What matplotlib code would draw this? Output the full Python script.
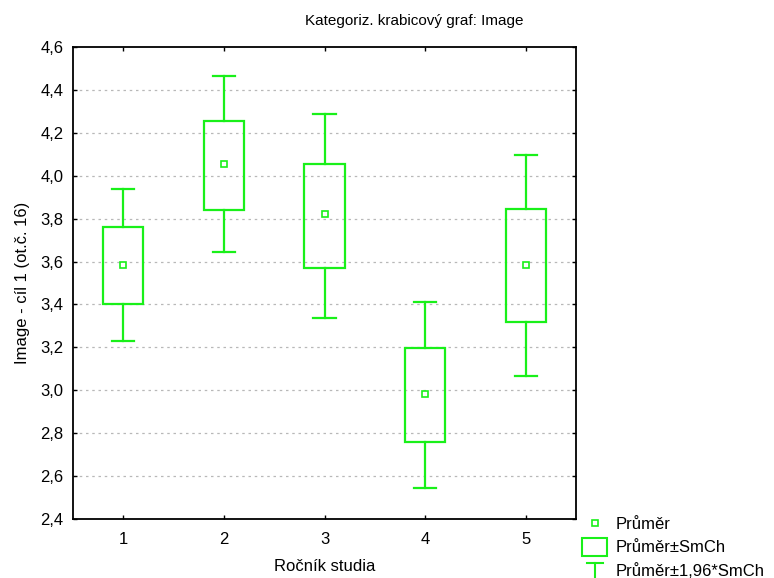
import matplotlib
matplotlib.use('Agg')
import matplotlib.pyplot as plt
from matplotlib.lines import Line2D
from matplotlib.patches import Rectangle
from matplotlib.legend_handler import HandlerBase
from matplotlib.ticker import FuncFormatter

plt.rcParams['font.family'] = ['Liberation Sans', 'DejaVu Sans']

# data
groups = [1, 2, 3, 4, 5]
means = [3.584, 4.055, 3.820, 2.982, 3.584]
box_lo = [3.402, 3.840, 3.570, 2.758, 3.318]
box_hi = [3.761, 4.255, 4.055, 3.197, 3.845]
whis_lo = [3.229, 3.644, 3.337, 2.544, 3.066]
whis_hi = [3.938, 4.465, 4.288, 3.411, 4.097]
yticks = [2.4, 2.6, 2.8, 3.0, 3.2, 3.4, 3.6, 3.8, 4.0, 4.2, 4.4, 4.6]

GREEN = '#19f019'
BOX_W = 0.40
CAP_W = 0.22
FS = 12


class HandlerT(HandlerBase):
    # whisker-like legend glyph: a "T"
    def create_artists(self, legend, orig_handle, xd, yd, width, height, fontsize, trans):
        cx = width / 2 - xd
        top = height + 1 - yd
        bar = Line2D([cx - 6, cx + 6], [top, top], color=GREEN, lw=1.5, transform=trans)
        stem = Line2D([cx, cx], [top, -yd - 10], color=GREEN, lw=1.5, transform=trans)
        return [bar, stem]


class HandlerBox(HandlerBase):
    def create_artists(self, legend, orig_handle, xd, yd, width, height, fontsize, trans):
        cx = width / 2 - xd
        r = Rectangle((cx - 9, -yd - 3), 18, height + 5, fill=False,
                      edgecolor=GREEN, lw=1.5, transform=trans)
        return [r]


fig = plt.figure(figsize=(7.74, 5.78), dpi=100)
ax = fig.add_axes([73 / 774, 0.102, 503 / 774, 0.8167])

for x, m, bl, bh, wl, wh in zip(groups, means, box_lo, box_hi, whis_lo, whis_hi):
    ax.add_patch(Rectangle((x - BOX_W / 2, bl), BOX_W, bh - bl, fill=False,
                           edgecolor=GREEN, lw=1.6, zorder=3))
    ax.plot([x, x], [bh, wh], color=GREEN, lw=1.6, zorder=3)
    ax.plot([x, x], [wl, bl], color=GREEN, lw=1.6, zorder=3)
    ax.plot([x - CAP_W / 2, x + CAP_W / 2], [wh, wh], color=GREEN, lw=1.6, zorder=3)
    ax.plot([x - CAP_W / 2, x + CAP_W / 2], [wl, wl], color=GREEN, lw=1.6, zorder=3)

ax.plot(groups, means, linestyle='none', marker='s', markersize=5,
        markerfacecolor='white', markeredgecolor=GREEN, markeredgewidth=1.2, zorder=4)

ax.set_xlim(0.5, 5.5)
ax.set_ylim(2.4, 4.6)
ax.set_xticks(groups)
ax.set_yticks(yticks)
ax.yaxis.set_major_formatter(FuncFormatter(lambda v, p: f'{v:.1f}'.replace('.', ',')))
for v in yticks[1:-1]:
    ax.axhline(v, color='#b8b8b8', lw=0.9, linestyle=(0, (2, 3)), zorder=1)

ax.tick_params(direction='in', length=3, width=1, labelsize=FS, colors='black',
               top=True, right=True, pad=7)
ax.tick_params(axis='x', pad=9)
for s in ax.spines.values():
    s.set_linewidth(1.3)
    s.set_color('black')

ax.set_xlabel('Ročník studia', fontsize=FS, labelpad=9)
ax.set_ylabel('Image - cíl 1 (ot.č. 16)', fontsize=FS, labelpad=7)
fig.text(414 / 774, 1 - 21 / 578, 'Kategoriz. krabicový graf: Image',
         ha='center', va='center', fontsize=11)

h_mean = Line2D([], [], linestyle='none', marker='s', markersize=5,
                markerfacecolor='white', markeredgecolor=GREEN, markeredgewidth=1.2)
h_box = object()
h_t = Rectangle((0, 0), 1, 1)
leg = fig.legend([h_mean, h_box, h_t],
                 ['Průměr', 'Průměr±SmCh', 'Průměr±1,96*SmCh'],
                 handler_map={type(h_box): HandlerBox(), Rectangle: HandlerT()},
                 loc='lower left', bbox_to_anchor=(0.745, -0.014),
                 frameon=False, fontsize=FS, handlelength=1.4,
                 labelspacing=0.5, handletextpad=0.55, borderaxespad=0)

fig.savefig('out.png', dpi=100)
